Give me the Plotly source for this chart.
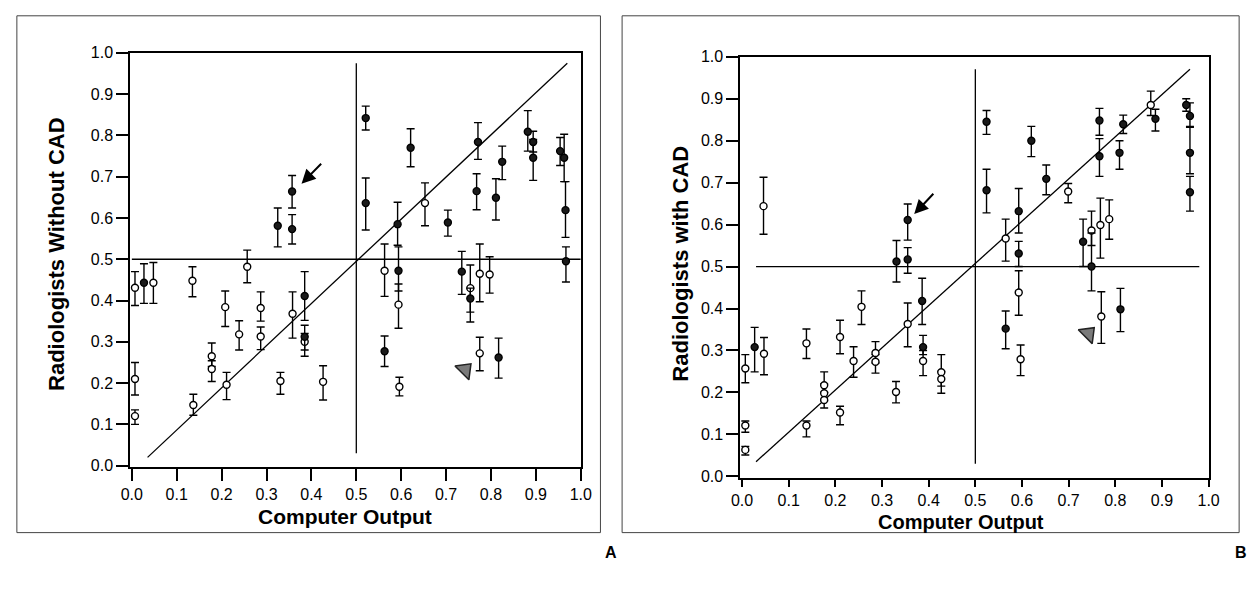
import numpy as np
import plotly.graph_objects as go

# ---------------- data ----------------
# Panel A (Radiologists without CAD)
A_open_x = [0.007, 0.048, 0.135, 0.257, 0.208, 0.239, 0.287, 0.287, 0.358, 0.385, 0.178, 0.178, 0.211, 0.331,
            0.426, 0.137, 0.007, 0.007, 0.653, 0.563, 0.594, 0.596, 0.754, 0.775, 0.797, 0.775]
A_open_y = [0.431, 0.443, 0.448, 0.482, 0.384, 0.318, 0.382, 0.313, 0.368, 0.300, 0.265, 0.234, 0.196, 0.205,
            0.203, 0.147, 0.210, 0.120, 0.636, 0.472, 0.390, 0.191, 0.430, 0.465, 0.463, 0.272]
A_open_hi = [0.470, 0.492, 0.482, 0.522, 0.423, 0.351, 0.421, 0.336, 0.421, 0.320, 0.297, 0.254, 0.226, 0.226,
             0.242, 0.173, 0.250, 0.135, 0.685, 0.537, 0.440, 0.214, 0.486, 0.537, 0.506, 0.311]
A_open_lo = [0.388, 0.393, 0.409, 0.443, 0.337, 0.280, 0.350, 0.281, 0.309, 0.280, 0.240, 0.204, 0.160, 0.173,
             0.159, 0.122, 0.171, 0.100, 0.581, 0.410, 0.333, 0.169, 0.372, 0.397, 0.418, 0.230]

A_fill_x = [0.325, 0.357, 0.357, 0.027, 0.385, 0.385, 0.521, 0.521, 0.621, 0.592, 0.704, 0.771, 0.768, 0.825,
            0.811, 0.882, 0.894, 0.894, 0.954, 0.963, 0.966, 0.967, 0.594, 0.563, 0.735, 0.754, 0.817]
A_fill_y = [0.581, 0.664, 0.573, 0.443, 0.411, 0.312, 0.842, 0.636, 0.770, 0.585, 0.589, 0.784, 0.665, 0.736,
            0.649, 0.809, 0.784, 0.746, 0.762, 0.746, 0.619, 0.495, 0.472, 0.277, 0.470, 0.405, 0.262]
A_fill_hi = [0.624, 0.703, 0.608, 0.489, 0.470, 0.340, 0.871, 0.697, 0.816, 0.638, 0.619, 0.831, 0.707, 0.774,
             0.695, 0.860, 0.810, 0.790, 0.795, 0.803, 0.688, 0.530, 0.530, 0.314, 0.519, 0.430, 0.309]
A_fill_lo = [0.530, 0.624, 0.537, 0.393, 0.352, 0.265, 0.813, 0.571, 0.724, 0.534, 0.556, 0.742, 0.620, 0.693,
             0.595, 0.762, 0.760, 0.691, 0.727, 0.688, 0.553, 0.445, 0.423, 0.240, 0.415, 0.348, 0.212]

# Panel B (Radiologists with CAD)
B_open_x = [0.046, 0.007, 0.047, 0.007, 0.007, 0.138, 0.210, 0.256, 0.239, 0.286, 0.286, 0.176, 0.176, 0.176,
            0.138, 0.210, 0.330, 0.355, 0.388, 0.427, 0.427, 0.565, 0.593, 0.597, 0.749, 0.768, 0.787, 0.770,
            0.699, 0.876]
B_open_y = [0.644, 0.257, 0.292, 0.121, 0.063, 0.317, 0.332, 0.404, 0.275, 0.294, 0.273, 0.217, 0.198, 0.182,
            0.121, 0.152, 0.201, 0.363, 0.275, 0.248, 0.232, 0.567, 0.438, 0.279, 0.586, 0.599, 0.613, 0.381,
            0.679, 0.885]
B_open_hi = [0.713, 0.290, 0.331, 0.132, 0.071, 0.351, 0.372, 0.442, 0.309, 0.321, 0.290, 0.249, 0.220, 0.200,
             0.132, 0.167, 0.226, 0.413, 0.300, 0.290, 0.250, 0.613, 0.490, 0.313, 0.632, 0.663, 0.659, 0.440,
             0.698, 0.918]
B_open_lo = [0.577, 0.223, 0.242, 0.105, 0.051, 0.281, 0.292, 0.362, 0.236, 0.270, 0.246, 0.200, 0.180, 0.163,
             0.094, 0.123, 0.175, 0.309, 0.240, 0.215, 0.198, 0.513, 0.384, 0.240, 0.550, 0.520, 0.565, 0.317,
             0.652, 0.860]

B_fill_x = [0.027, 0.331, 0.355, 0.355, 0.386, 0.388, 0.524, 0.524, 0.620, 0.652, 0.593, 0.593, 0.565, 0.766,
            0.766, 0.809, 0.817, 0.886, 0.952, 0.960, 0.960, 0.960, 0.731, 0.749, 0.811]
B_fill_y = [0.308, 0.512, 0.517, 0.611, 0.418, 0.308, 0.845, 0.682, 0.800, 0.709, 0.632, 0.531, 0.352, 0.848,
            0.763, 0.771, 0.839, 0.852, 0.885, 0.859, 0.771, 0.677, 0.559, 0.500, 0.398]
B_fill_hi = [0.355, 0.562, 0.545, 0.649, 0.472, 0.336, 0.872, 0.732, 0.834, 0.742, 0.686, 0.560, 0.394, 0.877,
             0.805, 0.800, 0.861, 0.875, 0.900, 0.890, 0.832, 0.715, 0.613, 0.580, 0.448]
B_fill_lo = [0.249, 0.463, 0.484, 0.563, 0.362, 0.290, 0.815, 0.628, 0.762, 0.671, 0.580, 0.500, 0.304, 0.813,
             0.715, 0.732, 0.817, 0.823, 0.870, 0.834, 0.721, 0.632, 0.500, 0.442, 0.345]

# reference lines
A_diag_x = [0.035, 0.970]
A_diag_y = [0.020, 0.975]
A_vert_x = [0.50, 0.50]
A_vert_y = [0.03, 0.975]
A_horiz_x = [0.0, 1.0]
A_horiz_y = [0.50, 0.50]

B_diag_x = [0.030, 0.960]
B_diag_y = [0.035, 0.970]
B_vert_x = [0.50, 0.50]
B_vert_y = [0.03, 0.970]
B_horiz_x = [0.03, 0.98]
B_horiz_y = [0.50, 0.50]

# annotation marks (arrow: tail -> head; arrowhead triangle)
A_arrow = dict(tail=(0.425, 0.735), head=(0.378, 0.683))
B_arrow = dict(tail=(0.413, 0.677), head=(0.369, 0.625))
A_tri = (0.742, 0.232)
B_tri = (0.742, 0.340)

tick_vals = [0.0, 0.1, 0.2, 0.3, 0.4, 0.5, 0.6, 0.7, 0.8, 0.9, 1.0]
tick_text = ["0.0", "0.1", "0.2", "0.3", "0.4", "0.5", "0.6", "0.7", "0.8", "0.9", "1.0"]

# ---------------- figure ----------------
W, H = 1258, 603
FONT = "Liberation Sans, Arial, Helvetica, sans-serif"

fig = go.Figure()


def add_points(x, y, hi, lo, filled, xa, ya):
    x = np.array(x); y = np.array(y); hi = np.array(hi); lo = np.array(lo)
    fig.add_trace(go.Scatter(
        x=x, y=y, mode="markers", xaxis=xa, yaxis=ya, showlegend=False,
        marker=dict(symbol="circle", size=7,
                    color="#1a1a1a" if filled else "white",
                    line=dict(color="black", width=1.4)),
        error_y=dict(type="data", symmetric=False, array=hi - y, arrayminus=y - lo,
                     color="black", thickness=1.4, width=4),
    ))


def add_line(x, y, xa, ya):
    fig.add_trace(go.Scatter(x=x, y=y, mode="lines", xaxis=xa, yaxis=ya, showlegend=False,
                             line=dict(color="black", width=1.3)))


for xs, ys, xa, ya in [(A_diag_x, A_diag_y, "x", "y"), (A_vert_x, A_vert_y, "x", "y"),
                       (A_horiz_x, A_horiz_y, "x", "y"),
                       (B_diag_x, B_diag_y, "x2", "y2"), (B_vert_x, B_vert_y, "x2", "y2"),
                       (B_horiz_x, B_horiz_y, "x2", "y2")]:
    add_line(xs, ys, xa, ya)

add_points(A_open_x, A_open_y, A_open_hi, A_open_lo, False, "x", "y")
add_points(A_fill_x, A_fill_y, A_fill_hi, A_fill_lo, True, "x", "y")
add_points(B_open_x, B_open_y, B_open_hi, B_open_lo, False, "x2", "y2")
add_points(B_fill_x, B_fill_y, B_fill_hi, B_fill_lo, True, "x2", "y2")

for (tx, ty), xa, ya in [(A_tri, "x", "y"), (B_tri, "x2", "y2")]:
    fig.add_trace(go.Scatter(x=[tx], y=[ty], mode="markers", xaxis=xa, yaxis=ya, showlegend=False,
                             marker=dict(symbol="triangle-up", angle=45, size=17, color="#7a7a7a",
                                         line=dict(color="#222", width=1.5))))

def px_x(p):
    return p / W

def px_y(p):
    return 1 - p / H

axis_common = dict(
    range=[-0.004, 1.0], tickvals=tick_vals, ticktext=tick_text, ticks="outside", ticklen=12,
    tickwidth=1.5, tickcolor="black", showline=True, linecolor="black", linewidth=1.6, mirror=True,
    showgrid=False, zeroline=False, tickfont=dict(family=FONT, size=16, color="black"),
)

fig.update_layout(
    width=W, height=H, margin=dict(l=0, r=0, t=0, b=0),
    paper_bgcolor="white", plot_bgcolor="white", showlegend=False,
    xaxis=dict(domain=[px_x(123), px_x(581)], anchor="y", **axis_common),
    yaxis=dict(domain=[px_y(471), px_y(46)], anchor="x", **axis_common),
    xaxis2=dict(domain=[px_x(743), px_x(1219)], anchor="y2", **axis_common),
    yaxis2=dict(domain=[px_y(482), px_y(50)], anchor="x2", **axis_common),
)
fig.update_xaxes(ticklen=7, selector=dict(anchor="y2"))

# outer frames
fig.add_shape(type="rect", xref="paper", yref="paper", x0=px_x(8), x1=px_x(601), y0=px_y(538), y1=px_y(8),
              line=dict(color="#444", width=1))
fig.add_shape(type="rect", xref="paper", yref="paper", x0=px_x(623), x1=px_x(1250), y0=px_y(538), y1=px_y(8),
              line=dict(color="#444", width=1))

title_font = dict(family=FONT, size=21, color="black", weight="bold")
anns = [
    dict(text="Computer Output", x=px_x(341), y=px_y(521), xref="paper", yref="paper", showarrow=False,
         font=title_font, xanchor="center", yanchor="middle"),
    dict(text="Computer Output", x=px_x(967), y=px_y(527), xref="paper", yref="paper", showarrow=False,
         font=dict(family=FONT, size=20, color="black", weight="bold"), xanchor="center", yanchor="middle"),
    dict(text="Radiologists Without CAD", x=px_x(48), y=px_y(252), xref="paper", yref="paper",
         showarrow=False, font=dict(family=FONT, size=22, color="black", weight="bold"), textangle=-90,
         xanchor="center", yanchor="middle"),
    dict(text="Radiologists with CAD", x=px_x(682), y=px_y(262), xref="paper", yref="paper",
         showarrow=False, font=dict(family=FONT, size=22, color="black", weight="bold"), textangle=-90,
         xanchor="center", yanchor="middle"),
    dict(text="A", x=px_x(612), y=px_y(558), xref="paper", yref="paper", showarrow=False,
         font=dict(family=FONT, size=16, color="black", weight="bold"), xanchor="center", yanchor="middle"),
    dict(text="B", x=px_x(1252), y=px_y(558), xref="paper", yref="paper", showarrow=False,
         font=dict(family=FONT, size=16, color="black", weight="bold"), xanchor="center", yanchor="middle"),
]
for arr, xa, ya in [(A_arrow, "x", "y"), (B_arrow, "x2", "y2")]:
    anns.append(dict(x=arr["head"][0], y=arr["head"][1], ax=arr["tail"][0], ay=arr["tail"][1],
                     xref=xa, yref=ya, axref=xa, ayref=ya, text="", showarrow=True,
                     arrowhead=2, arrowsize=1.4, arrowwidth=2, arrowcolor="black"))
fig.update_layout(annotations=anns)

fig.write_html("out.html", config={"displayModeBar": False},
               post_script="document.body.style.margin='0';document.body.style.overflow='hidden';")
